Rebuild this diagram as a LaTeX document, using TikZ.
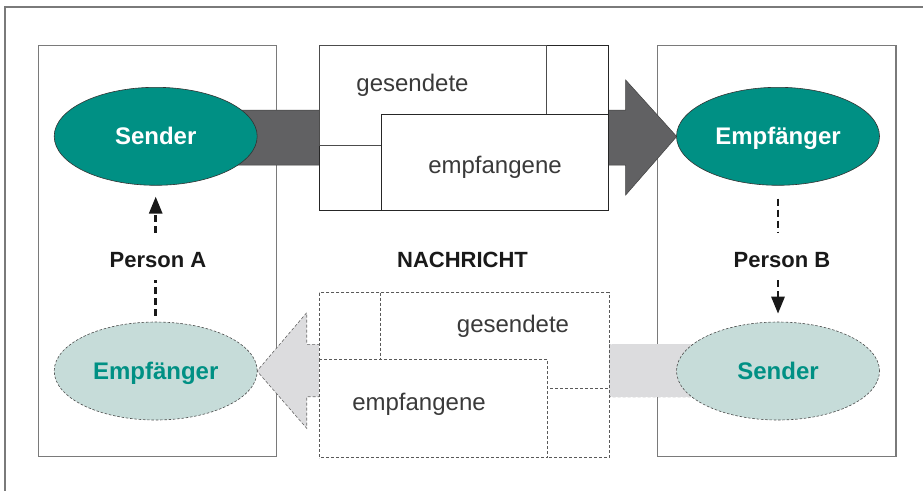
\documentclass[tikz,border=0pt]{standalone}
\usepackage{fontspec}
\setmainfont{Liberation Sans}
\usetikzlibrary{shapes.geometric,arrows.meta,calc}
\definecolor{teal1}{HTML}{009084}
\definecolor{tealL}{HTML}{C6DCD9}
\definecolor{darkarrow}{HTML}{616163}
\definecolor{lightarrow}{HTML}{DCDCDE}
\definecolor{framegray}{HTML}{7A7A7A}
\definecolor{txtgray}{HTML}{3A3A3A}
\tikzset{
  frameline/.style={draw=framegray, line width=1.2pt},
  ellsolid/.style={ellipse, draw=black!80, line width=0.6pt, fill=teal1, minimum width=203pt, minimum height=98pt, inner sep=0pt, text=white, font=\fontsize{24}{28}\selectfont\bfseries, text height=17pt, text depth=0pt},
  elldash/.style={ellipse, draw=black!70, dash pattern=on 2.5pt off 1.8pt, line width=0.6pt, fill=tealL, minimum width=203pt, minimum height=98pt, inner sep=0pt, text=teal1, font=\fontsize{24}{28}\selectfont\bfseries, text height=17pt, text depth=0pt},
  boldlabel/.style={font=\fontsize{22}{26}\selectfont\bfseries, text=black!90, inner sep=2pt, text height=16pt, text depth=0pt},
  msgtext/.style={font=\fontsize{24}{28}\selectfont, text=txtgray, text height=12.5pt, text depth=0pt},
  msgsolid/.style={draw=black!85, line width=0.8pt, fill=white},
  msgdash/.style={draw=black!65, line width=0.7pt, dash pattern=on 3pt off 2pt, fill=white},
  persondash/.style={draw=black!90, line width=2.8pt, dash pattern=on 7pt off 4pt},
}
\begin{document}
\begin{tikzpicture}[x=1pt,y=-1pt]
\useasboundingbox (0,0) rectangle (923,491);
% outer frame (top and left only)
\draw[frameline] (923,7) -- (5,7) -- (5,491);
% person boxes
\draw[frameline] (38.7,45.7) rectangle (276.7,456.7);
\draw[frameline] (657.7,45.7) rectangle (896,456.7);
% arrows
\draw[fill=darkarrow, draw=black!75, line width=0.5pt]
  (200,110) -- (625.7,110) -- (625.7,80) -- (676.7,136.5) -- (625.7,195) -- (625.7,165) -- (200,165) -- cycle;
\draw[fill=lightarrow, draw=black!60, line width=0.6pt, dash pattern=on 3pt off 2pt]
  (720,344.3) -- (306.7,344.3) -- (306.7,312.7) -- (257,371) -- (306.7,428.3) -- (306.7,396.7) -- (720,396.7);
\fill[lightarrow] (720,344.3) rectangle (612,396.7);
% top message boxes
\draw[msgsolid] (319.3,45) rectangle (608.7,210);
\draw[msgsolid, draw=black!70] (319.3,45) rectangle (546.7,145.3);
\draw[msgsolid] (381.3,114) rectangle (608.7,210);
\node[msgtext] (g1) at (412.5,85) {gesendete};
\node[msgtext] (e1) at (495,167) {empfangene};
% bottom message boxes
\draw[msgdash] (319.3,292.7) rectangle (609.3,457.7);
\draw[msgdash] (380.7,292.7) rectangle (609.3,388.3);
\draw[msgdash] (319.3,359.3) rectangle (547.3,457.7);
\node[msgtext] (g2) at (513,326) {gesendete};
\node[msgtext] (e2) at (419,404) {empfangene};
% ellipses
\node[ellsolid] (S1) at (155.7,136.3) {Sender};
\node[ellsolid] (E1) at (778,136.3) {Empfänger};
\node[elldash] (E2) at (155.7,371) {Empfänger};
\node[elldash] (S2) at (778,371) {Sender};
% labels
\node[boldlabel] (PA) at (158,259) {Person A};
\node[boldlabel] (PB) at (782,259) {Person B};
\node[boldlabel] (NA) at (462.5,259) {NACHRICHT};
% person connectors
\draw[persondash, shorten <=6pt, shorten >=11pt] (E2.north) -- (E2.north |- PA.south);
\draw[persondash, shorten >=11pt, shorten <=16pt, -{Triangle[width=13pt,length=17pt]}] (S1.south |- PA.north) -- (S1.south);
\draw[persondash, shorten <=13pt, shorten >=16pt] (E1.south) -- (E1.south |- PB.north);
\draw[persondash, shorten <=11pt, shorten >=8pt, -{Triangle[width=13pt,length=17pt]}] (S2.north |- PB.south) -- (S2.north);
\end{tikzpicture}
\end{document}
